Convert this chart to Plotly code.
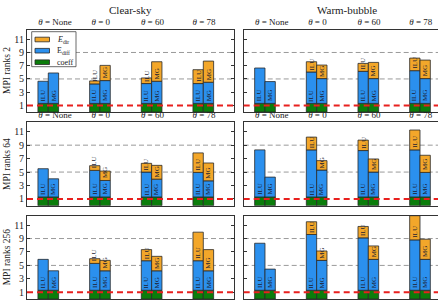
import plotly.graph_objects as go

W, H = 438, 301

groups = ["None", "0", "60", "78"]
methods = ["ILU", "MG"]
cases = ["Clear-sky", "Warm-bubble"]
ranks = ["2", "64", "256"]

coeff = [1.3, 1.3, 1.3, 1.3]

# segment heights: [ILU values, MG values] per theta group
clear_r2_diff = [[3.35, 2.95, 3.0, 3.0], [4.6, 3.45, 3.35, 3.2]]
clear_r2_dir = [[0, 0.45, 0.85, 2.1], [0, 2.3, 2.95, 3.2]]
warm_r2_diff = [[5.35, 4.75, 4.85, 4.95], [3.3, 3.75, 3.75, 3.75]]
warm_r2_dir = [[0, 1.55, 1.2, 1.9], [0, 2.05, 2.45, 2.8]]
clear_r64_diff = [[4.2, 3.95, 3.7, 3.65], [2.7, 2.45, 2.65, 2.4]]
clear_r64_dir = [[0, 0.7, 1.3, 2.9], [0, 1.4, 2.05, 2.65]]
warm_r64_diff = [[7.0, 7.0, 6.9, 7.0], [2.95, 4.0, 3.7, 3.65]]
warm_r64_dir = [[0, 1.9, 1.55, 2.95], [0, 1.4, 1.95, 2.55]]
clear_r256_diff = [[4.6, 4.0, 4.4, 4.4], [2.9, 2.9, 2.9, 2.9]]
clear_r256_dir = [[0, 0.7, 1.65, 4.25], [0, 1.55, 2.15, 3.15]]
warm_r256_diff = [[7.0, 8.3, 7.8, 7.5], [3.15, 4.45, 4.6, 4.6]]
warm_r256_dir = [[0, 1.9, 1.7, 3.6], [0, 1.4, 2.0, 3.0]]

panels = [
    (clear_r2_diff, clear_r2_dir), (warm_r2_diff, warm_r2_dir),
    (clear_r64_diff, clear_r64_dir), (warm_r64_diff, warm_r64_dir),
    (clear_r256_diff, clear_r256_dir), (warm_r256_diff, warm_r256_dir),
]

C_DIR = "#F3A72A"
C_DIFF = "#2B90EE"
C_COEFF = "#0B7D0B"
EDGE = "#2a2a2a"
FONT = "Liberation Serif"
TXT = "#222222"

# geometry (pixels)
col_px = [(27.0, 234.3), (243.7, 438.0)]
row_px = [(30.0, 112.0), (122.3, 205.7), (215.7, 299.0)]
unit_px = 51.67
x_lo = -0.412
yrange = [0, 12.4]
bar_w = 0.2
offsets = [-0.1, 0.1]

fig = go.Figure()
layout = dict(
    width=W, height=H, margin=dict(l=0, r=0, t=0, b=0, autoexpand=False),
    paper_bgcolor="white", plot_bgcolor="white",
    barmode="overlay", showlegend=False,
    font=dict(family=FONT, color=TXT),
)
shapes = []
annotations = []

for p, (diff, direc) in enumerate(panels):
    r, c = divmod(p, 2)
    n = "" if p == 0 else str(p + 1)
    xa, ya = "x" + n, "y" + n
    x0p, x1p = col_px[c]
    y0p, y1p = row_px[r]
    x_hi = x_lo + (x1p - x0p) / unit_px
    for m, meth in enumerate(methods):
        xs = [i + offsets[m] for i in range(len(groups))]
        d = diff[m]
        e = direc[m]
        fig.add_trace(go.Bar(x=xs, y=coeff, base=[0] * 4, width=bar_w,
                             marker=dict(color=C_COEFF, line=dict(color=EDGE, width=0.8)),
                             xaxis=xa, yaxis=ya, hoverinfo="skip"))
        fig.add_trace(go.Bar(x=xs, y=d, base=coeff, width=bar_w,
                             marker=dict(color=C_DIFF, line=dict(color=EDGE, width=0.8)),
                             xaxis=xa, yaxis=ya, hoverinfo="skip"))
        ex = [xs[i] for i in range(4) if e[i] > 0]
        ey = [e[i] for i in range(4) if e[i] > 0]
        eb = [coeff[i] + d[i] for i in range(4) if e[i] > 0]
        fig.add_trace(go.Bar(x=ex, y=ey, base=eb, width=bar_w,
                             marker=dict(color=C_DIR, line=dict(color=EDGE, width=0.8)),
                             xaxis=xa, yaxis=ya, hoverinfo="skip"))
        for i in range(4):
            annotations.append(dict(x=xs[i], y=coeff[i], xref=xa, yref=ya, text=meth,
                                    textangle=-90, xanchor="center", yanchor="bottom",
                                    showarrow=False, yshift=0, font=dict(size=7, color="#1c1c30")))
            if e[i] > 0:
                annotations.append(dict(x=xs[i], y=coeff[i] + d[i], xref=xa, yref=ya, text=meth,
                                        textangle=-90, xanchor="center", yanchor="bottom",
                                        showarrow=False, yshift=0, font=dict(size=7, color="#1c1c30")))
    for gv in (5, 9):
        shapes.append(dict(type="line", xref=xa + " domain", yref=ya, x0=0, x1=1, y0=gv, y1=gv,
                           line=dict(color="#9a9a9a", width=1, dash="5px,3px"), layer="below"))
    shapes.append(dict(type="line", xref=xa + " domain", yref=ya, x0=0, x1=1, y0=1, y1=1,
                       line=dict(color="#E8201E", width=2, dash="6px,4px"), layer="above"))

    tickvals = [i + (0.13 if i == 0 else 0.015) for i in range(len(groups))]
    ticktext = ["<i>θ</i> = " + g for g in groups]
    layout["xaxis" + n] = dict(
        domain=[x0p / W, x1p / W], range=[x_lo, x_hi], anchor=ya,
        showline=True, linecolor="#333", linewidth=1, mirror=True,
        ticks="", showgrid=False, zeroline=False, automargin=False,
        tickvals=tickvals, ticktext=ticktext,
        side="top" if r < 2 else "bottom",
        tickfont=dict(size=9, family=FONT, color=TXT),
    )
    layout["yaxis" + n] = dict(
        domain=[1 - y1p / H, 1 - y0p / H], range=yrange, anchor=xa,
        showline=True, linecolor="#333", linewidth=1,
        mirror="allticks" if c == 0 else False,
        ticks="inside", ticklen=3, tickcolor="#333", automargin=False,
        tickvals=[1, 3, 5, 7, 9, 11], showticklabels=(c == 0),
        showgrid=False, zeroline=False,
        tickfont=dict(size=10, family=FONT, color=TXT),
    )

# column titles
for c, name in enumerate(cases):
    x0p, _ = col_px[c]
    cx = x0p + (4.012 * unit_px) / 2
    annotations.append(dict(x=cx / W, y=1 - 10 / H, xref="paper", yref="paper", text=name,
                            showarrow=False, xanchor="center", yanchor="middle",
                            font=dict(size=11, family=FONT, color=TXT)))
# row titles
for r, rk in enumerate(ranks):
    y0p, y1p = row_px[r]
    annotations.append(dict(x=7 / W, y=1 - (y0p + y1p) / 2 / H, xref="paper", yref="paper",
                            text="MPI ranks " + rk, textangle=-90, showarrow=False,
                            xanchor="center", yanchor="middle",
                            font=dict(size=9.5, family=FONT, color=TXT)))

# legend (drawn manually)
def px(x):
    return x / W

def py(y):
    return 1 - y / H

shapes.append(dict(type="rect", xref="paper", yref="paper", x0=px(31.7), x1=px(76), y0=py(66.7), y1=py(31.7),
                   line=dict(color="#444", width=0.8), fillcolor="white", layer="above"))
leg = [("<i>E</i><sub>dir</sub>", C_DIR, 39.5), ("E<sub>diff</sub>", C_DIFF, 50.7), ("coeff", C_COEFF, 62.2)]
for label, col, yc in leg:
    shapes.append(dict(type="rect", xref="paper", yref="paper", x0=px(35), x1=px(49.5),
                       y0=py(yc + 2.3), y1=py(yc - 2.3), line=dict(color=EDGE, width=0.8),
                       fillcolor=col, layer="above"))
    annotations.append(dict(x=px(54.5), y=py(yc), xref="paper", yref="paper", text=label,
                            showarrow=False, xanchor="left", yanchor="middle",
                            font=dict(size=8, family=FONT, color=TXT)))

layout["shapes"] = shapes
layout["annotations"] = annotations
fig.update_layout(**layout)
fig.write_html("out.html")
